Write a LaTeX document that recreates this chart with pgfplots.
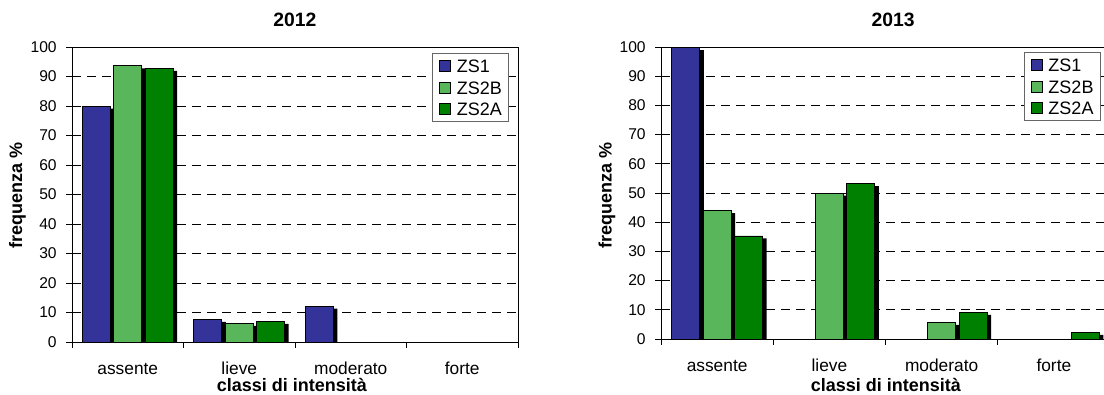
\documentclass[border=0pt]{standalone}
\usepackage{fontspec}
\setmainfont{Liberation Sans}
\usepackage{pgfplots}
\pgfplotsset{compat=1.18}

\definecolor{zsone}{RGB}{51,51,153}
\definecolor{zstwob}{RGB}{90,182,90}
\definecolor{zstwoa}{RGB}{0,128,0}

\pgfplotsset{
  shadowbar/.style={fill=black, draw=none, forget plot, yshift=-1.9pt},
  colbar/.style={fill=#1, draw=black, line width=0.6pt},
  common/.style={
    scale only axis,
    ybar,
    bar width=21pt,
    xmin=-0.5, xmax=3.5,
    ymin=0, ymax=100,
    ytick={0,10,20,30,40,50,60,70,100},
    extra y ticks={80,90},
    extra y tick style={grid style={black!55, line width=0.75pt, dash pattern=on 6.75pt off 4.5pt}},
    ymajorgrids,
    major grid style={black, line width=0.75pt, dash pattern=on 6.75pt off 4.5pt},
    xtick={-0.5,0.5,1.5,2.5,3.5},
    x tick label as interval,
    xticklabels={assente,lieve,moderato,forte},
    xtick pos=bottom, ytick pos=left,
    tick align=outside,
    major tick length=4.5pt,
    tick style={black, line width=0.75pt},
    axis line style={black, line width=0.75pt},
    /pgf/number format/assume math mode=true,
    yticklabel style={font=\fontsize{11.7}{14}\selectfont, xshift=-3.5pt},
    xticklabel style={font=\fontsize{13}{15}\selectfont, anchor=base, yshift=-19.5pt},
    title style={font=\fontsize{14.5}{17}\selectfont\bfseries, anchor=base},
    ylabel style={font=\fontsize{13.5}{16}\selectfont\bfseries, anchor=base},
    xlabel style={font=\fontsize{13.5}{16}\selectfont\bfseries, anchor=base},
    xlabel={classi di intensità},
    ylabel={frequenza \%},
    legend image code/.code={\draw[#1] (0pt,-4.1pt) rectangle (8.25pt,4.1pt);},
    legend cell align=left,
    legend style={at={(1,1)}, anchor=north east, draw=black!60, line width=0.75pt,
      font=\fontsize{13.5}{16}\selectfont, inner xsep=5pt, inner ysep=4.5pt,
      row sep=6.5pt,
      /tikz/every odd column/.append style={column sep=4.5pt},
      nodes={inner sep=0pt, text height=9.7pt, text depth=0pt}},
  }
}

\begin{document}
\begin{tikzpicture}
\useasboundingbox (0,0) rectangle (828pt,295.5pt);

% ---------------- 2012 ----------------
\begin{axis}[common,
  at={(54pt,39pt)}, anchor=south west,
  width=334.5pt, height=221.25pt,
  title={2012},
  title style={at={(axis description cs:0.5,1)}, yshift=9.5pt},
  ylabel style={at={(axis description cs:-0.112,0.495)}},
  xlabel style={at={(axis description cs:0.493,0)}, yshift=-37pt},
  legend style={xshift=-6.75pt, yshift=-4.5pt},
]
\addplot[shadowbar, bar shift=-20.6pt] coordinates {(0,80.0) (1,7.7) (2,12.2)};
\addplot[shadowbar, bar shift=3pt] coordinates {(0,93.6) (1,6.3)};
\addplot[shadowbar, bar shift=26.6pt] coordinates {(0,92.8) (1,7.0)};
\addplot[colbar=zsone, bar shift=-23.6pt] coordinates {(0,80.0) (1,7.7) (2,12.2)};
\addplot[colbar=zstwob, bar shift=0pt] coordinates {(0,93.6) (1,6.3)};
\addplot[colbar=zstwoa, bar shift=23.6pt] coordinates {(0,92.8) (1,7.0)};
\legend{ZS1,ZS2B,ZS2A}
\end{axis}

% ---------------- 2013 ----------------
\begin{axis}[common,
  at={(495.75pt,41.25pt)}, anchor=south west,
  width=336.75pt, height=219pt,
  title={2013},
  title style={at={(axis description cs:0.517,1)}, yshift=9.5pt},
  ylabel style={at={(axis description cs:-0.110,0.49)}},
  xlabel style={at={(axis description cs:0.501,0)}, yshift=-39pt},
  legend style={xshift=-7pt, yshift=-3.75pt},
]
\addplot[shadowbar, bar shift=-20.6pt] coordinates {(0,100)};
\addplot[shadowbar, bar shift=3pt] coordinates {(0,44.0) (1,50.0) (2,5.7)};
\addplot[shadowbar, bar shift=26.6pt] coordinates {(0,35.3) (1,53.2) (2,9.1) (3,2.3)};
\addplot[colbar=zsone, bar shift=-23.6pt] coordinates {(0,100)};
\addplot[colbar=zstwob, bar shift=0pt] coordinates {(0,44.0) (1,50.0) (2,5.7)};
\addplot[colbar=zstwoa, bar shift=23.6pt] coordinates {(0,35.3) (1,53.2) (2,9.1) (3,2.3)};
\legend{ZS1,ZS2B,ZS2A}
\end{axis}
\end{tikzpicture}
\end{document}
